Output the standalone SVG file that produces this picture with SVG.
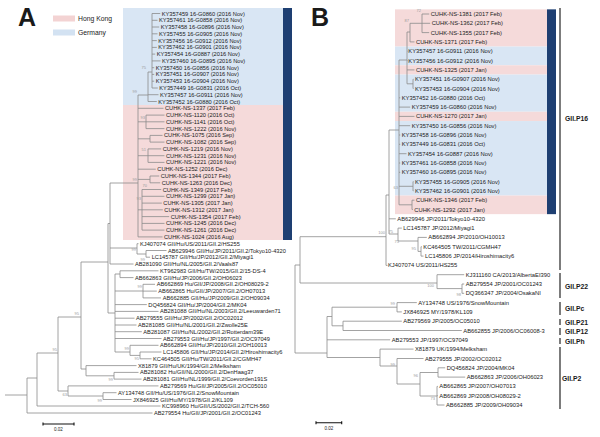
<svg xmlns="http://www.w3.org/2000/svg" width="600" height="437" viewBox="0 0 600 437">
<style>
text{font-family:"Liberation Sans",Arial,sans-serif;fill:#1a1a1a}
.t{font-size:5.7px}
.u{font-size:5.8px}
.b{font-size:4px;fill:#9a9a9a;text-anchor:end}
.e{fill:none;stroke:#8c8c8c;stroke-width:0.8}
.k{fill:none;stroke:#111;stroke-width:1.1}
.g{font-size:6.8px;font-weight:bold}
.pk{fill:#f5dada}
.bl{fill:#d9e6f4}
.nv{fill:#1e3f72}
</style>
<rect width="600" height="437" fill="#fff"/>
<rect class="bl" x="123" y="8" width="160" height="97"/>
<rect class="pk" x="123" y="105" width="160" height="135"/>
<rect class="nv" x="283" y="8" width="9" height="232"/>
<g id="legendA">
<text x="18" y="26" style="font-size:25px;font-weight:bold">A</text>
<rect x="53" y="15.5" width="22" height="6" fill="#f3d3d3"/>
<text x="78" y="21" style="font-size:6.8px">Hong Kong</text>
<rect x="53" y="29.5" width="22" height="6" fill="#d3e2f2"/>
<text x="78" y="35" style="font-size:6.8px">Germany</text>
</g>
<rect class="pk" x="395" y="9.35" width="152" height="37.2"/>
<rect class="bl" x="395" y="46.55" width="152" height="18.7"/>
<rect class="pk" x="395" y="65.25" width="152" height="9.3"/>
<rect class="bl" x="395" y="74.55" width="152" height="37.2"/>
<rect class="pk" x="395" y="111.75" width="152" height="9.3"/>
<rect class="bl" x="395" y="121.05" width="152" height="74.5"/>
<rect class="pk" x="395" y="195.55" width="152" height="18.6"/>
<rect class="nv" x="547" y="9.35" width="9" height="204.8"/>
<text x="311" y="26" style="font-size:25px;font-weight:bold">B</text>

<g id="connectors">
<path class="e" d="M5,395H27M27,378V413M27,413H152.5M27,378H37M37,353V406M37,406H160.5M37,353H58M58,317V391M58,391H68M68,386V396M68,385.9H158.5M68,396H103M103,392.7V399.5M103,392.7H116.5M103,399.5H131.5M58,317H81M81,262V369M81,369H86M86,365.6V375.8M86,365.6H136.5M86,375.8H114M114,372.4V379.1M114,372.4H138.5M114,379.1H141.5
M81,262H108M108,223.5V313M108,223.5H110M110,183V264M110,183H138M110,248H137M137,243.7V254M137,243.7H138.5M137,254H146M146,250.5V257.2M146,250.5H166.5M146,257.2H150M110,264H133.5
M108,313H115M115,274V352M115,274H120M120,270.8V277.6M120,270.8H158.5M120,277.6H133.5M115,291H143M143,284.3V297.9M143,284.3H155M143,291.1H156.8M143,297.9H161M115,304.6H146.8M115,311.4H158.5M115,318.2H134.5M115,325H136.5M115,331.7H141.8M115,338.5H161.5M115,352H130M130,345.3V355.4M130,345.3H158.5M130,355.4H140M140,352V358.8M140,352H161.5M140,358.8H151.5
M138,95V236.9M138,95H148M148,72V101.5M148,72H152M152,13.5V88M152,13.5H160.2M152,20.3H157.5M152,27H159.2M152,33.8H157.5M152,40.6H156.8M152,47.4H156.8M152,54.1H155.2M152,60.9H160.5M152,67.7H154.2M152,74.4H154.2M152,81.2H154.2M152,88H157.8M148,94.7H158.5M148,101.5H156.8
M138,108.3H163.5M138,121.8H146M146,115.1V128.6M146,115.1H164.5M146,121.8H164.5M146,128.6H164.5M138,138.8H150M150,135.4V142.1M150,135.4H162.5M150,142.1H164.5M138,155.7H148M148,148.9V162.4M148,148.9H161.2M148,155.7H164.5M148,162.4H164.5M138,169.2H155.8M138,179.4H150M150,176V182.8M150,176H159.2M150,182.8H160.2M138,209.8H142M142,189.5V230.1M142,189.5H161.2M142,196.3H164.5M142,203.1H161.8M142,209.8H162.8M142,216.6H169.2M142,223.4H164.5M142,230.1H164.5M138,236.9H162.5"/>
<path class="e" d="M295,265V353M295,265H300M300,236.7V283M300,236.7H386M300,283H437M295,353H327
M386,195V265.4M386,265.4H387.5M386,195H389M389,130V234M389,130H399M389,218.8H395.8M389,234H398M398,228.1V241M398,228.1H401.8M398,241H418M418,237.4V251.4M418,237.4H426.8M418,251.4H421M421,246.7V256.1M421,246.7H421.8M421,256.1H423.5
M399,60V204.8M399,60H407M407,32V83.8M407,32H410M410,23.3V41.9M410,23.3H422M422,14V32.6M422,14H429.2M422,23.3H430.2M422,32.6H429.2M410,41.9H414.5M407,51.2H407.5M407,60.6H407.5M407,69.9H414.5M407,83.8H413M413,79.2V88.5M413,79.2H413.5M413,88.5H413.5
M399,97.8H400.2M399,107.1H410.2M399,116.4H414.5M399,125.7H410.2M399,135H400.2M399,144.3H400.2M399,153.7H406.5M399,163H400.2M399,172.3H400.2M399,186.3H413M413,181.6V190.9M413,181.6H413.5M413,190.9H413.5M399,204.8H412M412,200.2V209.5M412,200.2H414.5M412,209.5H412.8
M437,274.7V288.6M437,274.7H464.2M437,288.6H462M462,284V293.3M462,284H464.2M462,293.3H464.2
M327,316.5V357.5M327,316.5H332M332,307.2V325.8M332,307.2H397M397,302.6V311.9M397,302.6H416.8M397,311.9H401.8M332,325.8H343M343,321.2V330.5M343,321.2H401.8M343,330.5H461.8M327,339.8H390.2
M327,357.5H380M380,349.1V366M380,349.1H413.5M380,366H397M397,358.5V384M397,358.5H423.5M397,384H420M420,372.5V396M420,372.5H438M438,367.8V377.1M438,367.8H445.2M438,377.1H465.2M420,396H437M437,386.4V405M437,386.4H437.8M437,395.7H437.8M437,405H444.5"/>
<path class="k" d="M560,8V270M560,273V298M560,302V315M560,319V325M560,328V335M560,338V344M560,347V409"/>
<path class="k" d="M43,424H74M43,422.5V425.5M74,422.5V425.5M316,422.7H341.7M316,421.2V424.2M341.7,421.2V424.2"/>
</g>

<g id="bootstrapA">
<text class="b" x="146" y="69">75</text><text class="b" x="137" y="93">99</text>
<text class="b" x="145" y="119">93</text><text class="b" x="146" y="151">51</text>
<text class="b" x="147" y="187">70</text><text class="b" x="141" y="200">93</text>
<text class="b" x="137" y="181">99</text><text class="b" x="136" y="251">99</text>
<text class="b" x="145" y="261">99</text><text class="b" x="142" y="288">99</text>
<text class="b" x="129" y="350">99</text><text class="b" x="139" y="360">95</text>
<text class="b" x="57" y="351">95</text><text class="b" x="79" y="315">95</text>
<text class="b" x="67" y="396">63</text><text class="b" x="102" y="402">99</text>
<text class="b" x="113" y="381">99</text>
</g>
<g id="bootstrapB">
<text class="b" x="421" y="12">72</text><text class="b" x="409" y="22">87</text>
<text class="b" x="398" y="189">63</text><text class="b" x="385" y="234">100</text>
<text class="b" x="393" y="233">75</text><text class="b" x="399" y="243">75</text>
<text class="b" x="416" y="250">95</text><text class="b" x="434" y="287">100</text>
<text class="b" x="461" y="296">98</text><text class="b" x="395" y="305">99</text>
<text class="b" x="395" y="366">99</text><text class="b" x="418" y="377">96</text>
<text class="b" x="435" y="400">73</text>
</g>

<g id="leavesA" class="t">
<g id="a1"><text x="161.7" y="15.5">KY357459 16-G0860 (2016 Nov)</text></g>
<g id="a2"><text x="159" y="22.3">KY357461 16-G0858 (2016 Nov)</text></g>
<g id="a3"><text x="160.7" y="29">KY357458 16-G0896 (2016 Nov)</text></g>
<g id="a4"><text x="159" y="35.8">KY357455 16-G0905 (2016 Nov)</text></g>
<g id="a5"><text x="158.3" y="42.6">KY357456 16-G0912 (2016 Nov)</text></g>
<g id="a6"><text x="158.3" y="49.4">KY357462 16-G0901 (2016 Nov)</text></g>
<g id="a7"><text x="156.7" y="56.1">KY357454 16-G0887 (2016 Nov)</text></g>
<g id="a8"><text x="162" y="62.9">KY357460 16-G0895 (2016 Nov)</text></g>
<g id="a9"><text x="155.7" y="69.7">KY357450 16-G0856 (2016 Nov)</text></g>
<g id="a10"><text x="155.7" y="76.4">KY357451 16-G0907 (2016 Nov)</text></g>
<g id="a11"><text x="155.7" y="83.2">KY357453 16-G0904 (2016 Nov)</text></g>
<g id="a12"><text x="159.3" y="90">KY357449 16-G0831 (2016 Oct)</text></g>
<g id="a13"><text x="160" y="96.7">KY357457 16-G0911 (2016 Nov)</text></g>
<g id="a14"><text x="158.3" y="103.5">KY357452 16-G0880 (2016 Oct)</text></g>
<g id="a15"><text x="165" y="110.3">CUHK-NS-1337 (2017 Feb)</text></g>
<g id="a16"><text x="166" y="117.1">CUHK-NS-1120 (2016 Oct)</text></g>
<g id="a17"><text x="166" y="123.8">CUHK-NS-1141 (2016 Oct)</text></g>
<g id="a18"><text x="166" y="130.6">CUHK-NS-1222 (2016 Nov)</text></g>
<g id="a19"><text x="164" y="137.4">CUHK-NS-1075 (2016 Sep)</text></g>
<g id="a20"><text x="166" y="144.1">CUHK-NS-1082 (2016 Sep)</text></g>
<g id="a21"><text x="162.7" y="150.9">CUHK-NS-1219 (2016 Nov)</text></g>
<g id="a22"><text x="166" y="157.7">CUHK-NS-1231 (2016 Nov)</text></g>
<g id="a23"><text x="166" y="164.4">CUHK-NS-1221 (2016 Nov)</text></g>
<g id="a24"><text x="157.3" y="171.2">CUHK-NS-1252 (2016 Dec)</text></g>
<g id="a25"><text x="160.7" y="178">CUHK-NS-1344 (2017 Feb)</text></g>
<g id="a26"><text x="161.7" y="184.8">CUHK-NS-1263 (2016 Dec)</text></g>
<g id="a27"><text x="162.7" y="191.5">CUHK-NS-1349 (2017 Feb)</text></g>
<g id="a28"><text x="166" y="198.3">CUHK-NS-1299 (2017 Jan)</text></g>
<g id="a29"><text x="163.3" y="205.1">CUHK-NS-1305 (2017 Jan)</text></g>
<g id="a30"><text x="164.3" y="211.8">CUHK-NS-1312 (2017 Jan)</text></g>
<g id="a31"><text x="170.7" y="218.6">CUHK-NS-1354 (2017 Feb)</text></g>
<g id="a32"><text x="166" y="225.4">CUHK-NS-1245 (2016 Dec)</text></g>
<g id="a33"><text x="166" y="232.1">CUHK-NS-1261 (2016 Dec)</text></g>
<g id="a34"><text x="164" y="238.9">CUHK-NS-1024 (2016 Aug)</text></g>
<g id="a35"><text x="140" y="245.7">KJ407074 GII/Hu/US/2011/GII.2/HS255</text></g>
<g id="a36"><text x="168" y="252.5">AB629946 GII/Hu/JP/2011/GII.2/Tokyo10-4320</text></g>
<g id="a37"><text x="151.7" y="259.2">LC145787 GII/Hu/JP/2012/GII.2/Miyagi1</text></g>
<g id="a38"><text x="135" y="266">AB281090 GII/Hu/NL/2005/GII.2/Vaals87</text></g>
<g id="a39"><text x="160" y="272.8">KT962983 GII/Hu/TW/2015/GII.2/15-DS-4</text></g>
<g id="a40"><text x="135" y="279.6">AB662863 GII/Hu/JP/2006/GII.2/OH06023</text></g>
<g id="a41"><text x="156.7" y="286.3">AB662869 Hu/GII/JP/2008/GII.2/OH08029-2</text></g>
<g id="a42"><text x="158.3" y="293.1">AB662865 Hu/GII/JP/2007/GII.2/OH07013</text></g>
<g id="a43"><text x="162.7" y="299.9">AB662885 GII/Hu/JP/2009/GII.2/OH09034</text></g>
<g id="a44"><text x="148.3" y="306.6">DQ456824 GII/Hu/JP/2004/GII.2/MK04</text></g>
<g id="a45"><text x="160" y="313.4">AB281088 GII/Hu/NL/2003/GII.2/Leeuwarden71</text></g>
<g id="a46"><text x="136" y="320.2">AB279555 GII/Hu/JP/2002/GII.2/OC02012</text></g>
<g id="a47"><text x="138" y="327">AB281085 GII/Hu/NL/2001/GII.2/Zwolle25E</text></g>
<g id="a48"><text x="143.3" y="333.7">AB281087 GII/Hu/NL/2002/GII.2/Rotterdam39E</text></g>
<g id="a49"><text x="163" y="340.5">AB279553 GII/Hu/JP/1997/GII.2/OC97049</text></g>
<g id="a50"><text x="160" y="347.3">AB662894 GII/Hu/JP/2010/GII.2/OH10013</text></g>
<g id="a51"><text x="163" y="354">LC145806 GII/Hu/JP/2014/GII.2/Hiroshimacity6</text></g>
<g id="a52"><text x="153" y="360.8">KC464505 GII/Hu/TW/2011/GII.2/CGMH47</text></g>
<g id="a53"><text x="138" y="367.6">X81879 GII/Hu/UK/1994/GII.2/Melksham</text></g>
<g id="a54"><text x="140" y="374.4">AB281082 Hu/GII/NL/2000/GII.2/DenHaag37</text></g>
<g id="a55"><text x="143" y="381.1">AB281081 GII/Hu/NL/1999/GII.2/Coevorden191S</text></g>
<g id="a56"><text x="160" y="387.9">AB279569 Hu/GII/JP/2005/GII.2/OC05010</text></g>
<g id="a57"><text x="118" y="394.7">AY134748 GII/Hu/US/1976/GII.2/SnowMountain</text></g>
<g id="a58"><text x="133" y="401.5">JX846925 GII/Hu/MY/1978/GII.2/KL109</text></g>
<g id="a59"><text x="162" y="408.2">KC998960 Hu/GII/US/2002/GII.2/TCH-560</text></g>
<g id="a60"><text x="154" y="415">AB279554 Hu/GII/JP/2001/GII.2/OC01243</text></g>
</g>

<g id="leavesB" class="u">
<g id="b1"><text x="430.7" y="16">CUHK-NS-1381 (2017 Feb)</text></g>
<g id="b2"><text x="431.7" y="25.3">CUHK-NS-1362 (2017 Feb)</text></g>
<g id="b3"><text x="430.7" y="34.6">CUHK-NS-1355 (2017 Feb)</text></g>
<g id="b4"><text x="416" y="43.9">CUHK-NS-1371 (2017 Feb)</text></g>
<g id="b5"><text x="408.3" y="53.2">KY357457 16-G0911 (2016 Nov)</text></g>
<g id="b6"><text x="408.3" y="62.6">KY357456 16-G0912 (2016 Nov)</text></g>
<g id="b7"><text x="416" y="71.9">CUHK-NS-1325 (2017 Jan)</text></g>
<g id="b8"><text x="415" y="81.2">KY357451 16-G0907 (2016 Nov)</text></g>
<g id="b9"><text x="415" y="90.5">KY357453 16-G0904 (2016 Nov)</text></g>
<g id="b10"><text x="401.7" y="99.8">KY357452 16-G0880 (2016 Oct)</text></g>
<g id="b11"><text x="411.7" y="109.1">KY357459 16-G0860 (2016 Nov)</text></g>
<g id="b12"><text x="416" y="118.4">CUHK-NS-1270 (2017 Jan)</text></g>
<g id="b13"><text x="411.7" y="127.7">KY357450 16-G0856 (2016 Nov)</text></g>
<g id="b14"><text x="401.7" y="137">KY357458 16-G0896 (2016 Nov)</text></g>
<g id="b15"><text x="401.7" y="146.3">KY357449 16-G0831 (2016 Oct)</text></g>
<g id="b16"><text x="408" y="155.7">KY357454 16-G0887 (2016 Nov)</text></g>
<g id="b17"><text x="401.7" y="165">KY357461 16-G0858 (2016 Nov)</text></g>
<g id="b18"><text x="401.7" y="174.3">KY357460 16-G0895 (2016 Nov)</text></g>
<g id="b19"><text x="415" y="183.6">KY357455 16-G0905 (2016 Nov)</text></g>
<g id="b20"><text x="415" y="192.9">KY357462 16-G0901 (2016 Nov)</text></g>
<g id="b21"><text x="416" y="202.2">CUHK-NS-1346 (2017 Feb)</text></g>
<g id="b22"><text x="414.3" y="211.5">CUHK-NS-1292 (2017 Jan)</text></g>
<g id="b23"><text x="397.3" y="220.8">AB629946 JP/2011/Tokyo10-4320</text></g>
<g id="b24"><text x="403.3" y="230.1">LC145787 JP/2012/Miyagi1</text></g>
<g id="b25"><text x="428.3" y="239.4">AB662894 JP/2010/OH10013</text></g>
<g id="b26"><text x="423.3" y="248.7">KC464505 TW/2011/CGMH47</text></g>
<g id="b27"><text x="425" y="258.1">LC145806 JP/2014/Hiroshimacity6</text></g>
<g id="b28"><text x="388" y="267.4">KJ407074 US/2011/HS255</text></g>
<g id="b29"><text x="465.7" y="276.7">KJ311160 CA/2013/AlbertaEI390</text></g>
<g id="b30"><text x="465.7" y="286">AB279554 JP/2001/OC01243</text></g>
<g id="b31"><text x="465.7" y="295.3">DQ366347 JP/2004/OsakaNI</text></g>
<g id="b32"><text x="418.3" y="304.6">AY134748 US/1976/SnowMountain</text></g>
<g id="b33"><text x="403.3" y="313.9">JX846925 MY/1978/KL109</text></g>
<g id="b34"><text x="403.3" y="323.2">AB279569 JP/2005/OC05010</text></g>
<g id="b35"><text x="463.3" y="332.5">AB662855 JP/2006/OC06008-3</text></g>
<g id="b36"><text x="391.7" y="341.8">AB279553 JP/1997/OC97049</text></g>
<g id="b37"><text x="415" y="351.1">X81879 UK/1994/Melksham</text></g>
<g id="b38"><text x="425" y="360.5">AB279555 JP/2002/OC02012</text></g>
<g id="b39"><text x="446.7" y="369.8">DQ456824 JP/2004/MK04</text></g>
<g id="b40"><text x="466.7" y="379.1">AB662863 JP/2006/OH06023</text></g>
<g id="b41"><text x="439.3" y="388.4">AB662865 JP/2007/OH07013</text></g>
<g id="b42"><text x="439.3" y="397.7">AB662869 JP/2008/OH08029-2</text></g>
<g id="b43"><text x="446" y="407">AB662885 JP/2009/OH09034</text></g>
</g>

<g id="genotypes" class="g">
<g id="gP16"><text x="565" y="121">GII.P16</text></g>
<g id="gP22"><text x="565" y="288.5">GII.P22</text></g>
<g id="gPc"><text x="565" y="310.5">GII.Pc</text></g>
<g id="gP21"><text x="565" y="324.5">GII.P21</text></g>
<g id="gP12"><text x="565" y="334">GII.P12</text></g>
<g id="gPh"><text x="565" y="343.5">GII.Ph</text></g>
<g id="gP2"><text x="562" y="380.5">GII.P2</text></g>
</g>
<g id="scales" style="font-size:4.5px;text-anchor:middle">
<text x="58.5" y="431">0.02</text>
<text x="329" y="430">0.02</text>
</g>
</svg>
